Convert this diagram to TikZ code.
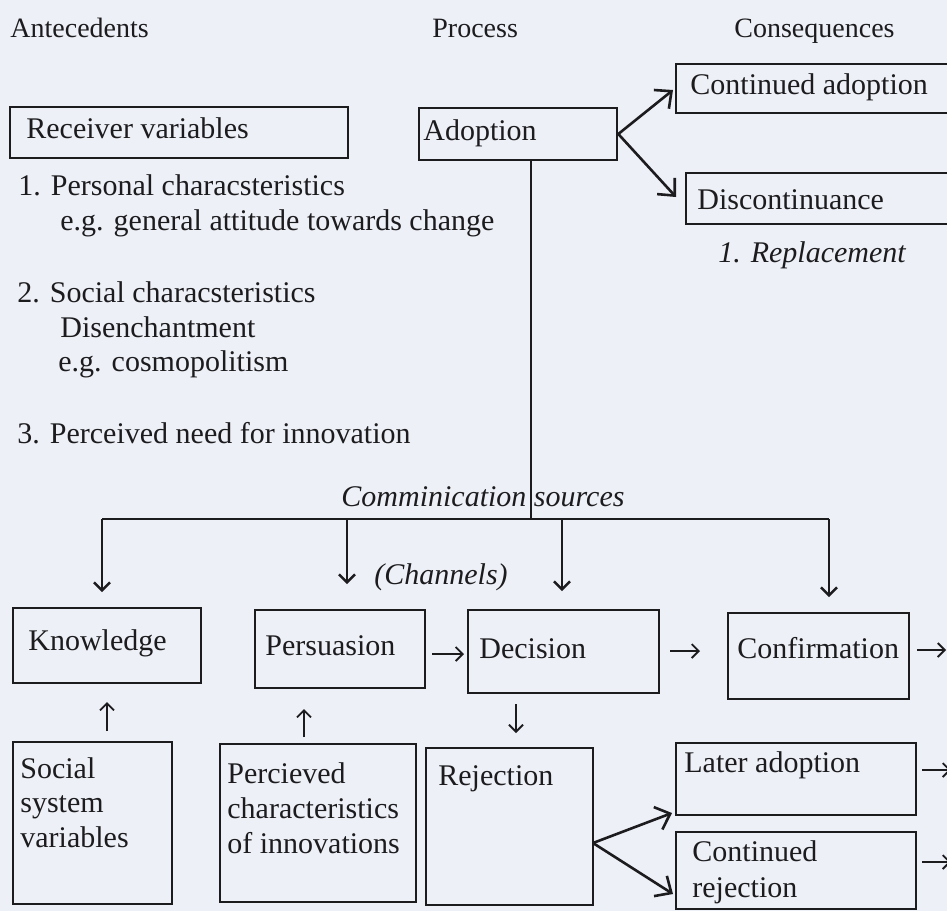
\documentclass[tikz,border=0pt]{standalone}
\usepackage{fontspec}
\setmainfont{Liberation Serif}
\usetikzlibrary{arrows.meta,fit}
\definecolor{bg}{RGB}{238,240,248}
\definecolor{ink}{RGB}{28,28,30}
\begin{document}
\begin{tikzpicture}[x=0.5pt,y=-0.5pt,
  bx/.style={draw=ink, line width=1.3pt, inner sep=0pt, rectangle},
  txt/.style={inner sep=0pt, anchor=base west, text=ink, font=\fontsize{15}{18}\selectfont},
  itx/.style={inner sep=0pt, anchor=base, text=ink, font=\fontsize{15}{18}\selectfont\itshape},
  hd/.style={inner sep=0pt, anchor=base west, text=ink, font=\fontsize{14}{16}\selectfont},
  ln/.style={draw=ink, line width=1.2pt},
  big/.style={draw=ink, line width=1.3pt, -{Straight Barb[length=6.5pt,width=12pt,line width=1.3pt]}},
  drop/.style={draw=ink, line width=1.2pt, -{Straight Barb[length=4pt,width=8pt,line width=1.2pt]}},
  sm/.style={draw=ink, line width=0.9pt, -{Straight Barb[length=3.5pt,width=7pt,line width=0.9pt]}},
]
\clip (0,0) rectangle (947,911);
\fill[bg] (0,0) rectangle (947,911);

% headers
\node[hd] (hA) at (10,37) {Antecedents};
\node[hd] (hP) at (432,37) {Process};
\node[hd] (hC) at (734,37) {Consequences};

% boxes
\node[bx, fit={(10,107) (348,158)}] (rv) {};
\node[bx, fit={(419,108) (617,160)}] (ad) {};
\node[bx, fit={(676,64) (980,113)}] (ca) {};
\node[bx, fit={(686,173) (980,224)}] (dc) {};
\node[bx, fit={(13,608) (201,683)}] (kn) {};
\node[bx, fit={(255,610) (425,688)}] (pe) {};
\node[bx, fit={(468,610) (659,693)}] (de) {};
\node[bx, fit={(728,613) (909,699)}] (co) {};
\node[bx, fit={(13,742) (172,904)}] (ss) {};
\node[bx, fit={(220,744) (416,902)}] (pc) {};
\node[bx, fit={(426,748) (593,905)}] (rj) {};
\node[bx, fit={(676,743) (916,815)}] (la) {};
\node[bx, fit={(676,832) (916,909)}] (cr) {};

% box texts
\node[txt] (trv) at (26,138) {Receiver variables};
\node[txt] (tad) at (423,140) {Adoption};
\node[txt] (tca) at (690,94) {Continued adoption};
\node[txt] (tdc) at (697,209) {Discontinuance};
\node[itx] (trp) at (812,262) {1. Replacement};

\node[txt] (l1) at (18,195) {1. Personal characsteristics};
\node[txt] (l1b) at (60,230) {e.g. general attitude towards change};
\node[txt] (l2) at (17,302) {2. Social characsteristics};
\node[txt] (l2b) at (60,337) {Disenchantment};
\node[txt] (l2c) at (58,371) {e.g. cosmopolitism};
\node[txt] (l3) at (17,443) {3. Perceived need for innovation};

\node[itx] (tcs) at (483,506) {Comminication sources};
\node[itx] (tch) at (441,584) {(Channels)};

\node[txt] (tkn) at (28,650) {Knowledge};
\node[txt] (tpe) at (265,655) {Persuasion};
\node[txt] (tde) at (479,658) {Decision};
\node[txt] (tco) at (737,658) {Confirmation};

\node[txt] (tss1) at (20,778) {Social};
\node[txt] (tss2) at (20,812) {system};
\node[txt] (tss3) at (20,847) {variables};
\node[txt] (tpc1) at (227,783) {Percieved};
\node[txt] (tpc2) at (227,818) {characteristics};
\node[txt] (tpc3) at (227,853) {of innovations};
\node[txt] (trj) at (438,785) {Rejection};
\node[txt] (tla) at (684,772) {Later adoption};
\node[txt] (tcr1) at (692,861) {Continued};
\node[txt] (tcr2) at (692,897) {rejection};

% top branching
\coordinate (adS) at (531,160);
\coordinate (jn) at (531,519);
\coordinate (hl) at (102,519);
\coordinate (hr) at (829,519);
\draw[ln] (ad.south -| adS) -- (jn);
\draw[ln] (hl) -- (hr);
\coordinate (k1) at (102,592);
\coordinate (p0) at (347,519);
\coordinate (p1) at (347,584);
\coordinate (d0) at (562,519);
\coordinate (d1) at (562,591);
\coordinate (c1) at (829,597);
\draw[drop] (hl) -- (k1);
\draw[drop] (p0) -- (p1);
\draw[drop] (d0) -- (d1);
\draw[drop] (hr) -- (c1);

% adoption outcomes
\coordinate (caT) at (673,90);
\coordinate (dcT) at (676,197);
\draw[big] (ad.east) -- (caT);
\draw[big] (ad.east) -- (dcT);

% small arrows
\coordinate (pd0) at (432,654); \coordinate (pd1) at (464,654);
\draw[sm] (pd0) -- (pd1);
\coordinate (dc0) at (670,651); \coordinate (dc1) at (700,651);
\draw[sm] (dc0) -- (dc1);
\coordinate (co0) at (917,650); \coordinate (co1) at (946,650);
\draw[sm] (co0) -- (co1);
\coordinate (la0) at (922,770); \coordinate (la1) at (951,770);
\draw[sm] (la0) -- (la1);
\coordinate (cr0) at (922,862); \coordinate (cr1) at (951,862);
\draw[sm] (cr0) -- (cr1);
\coordinate (ku0) at (107,731); \coordinate (ku1) at (107,702);
\draw[sm] (ku0) -- (ku1);
\coordinate (pu0) at (304,737); \coordinate (pu1) at (304,709);
\draw[sm] (pu0) -- (pu1);
\coordinate (dd0) at (516,704); \coordinate (dd1) at (516,733);
\draw[sm] (dd0) -- (dd1);

% rejection outcomes
\coordinate (rjE) at (593,843);
\coordinate (laT) at (672,813);
\coordinate (crT) at (673,894);
\draw[big] (rjE) -- (laT);
\draw[big] (rjE) -- (crT);
\end{tikzpicture}
\end{document}
